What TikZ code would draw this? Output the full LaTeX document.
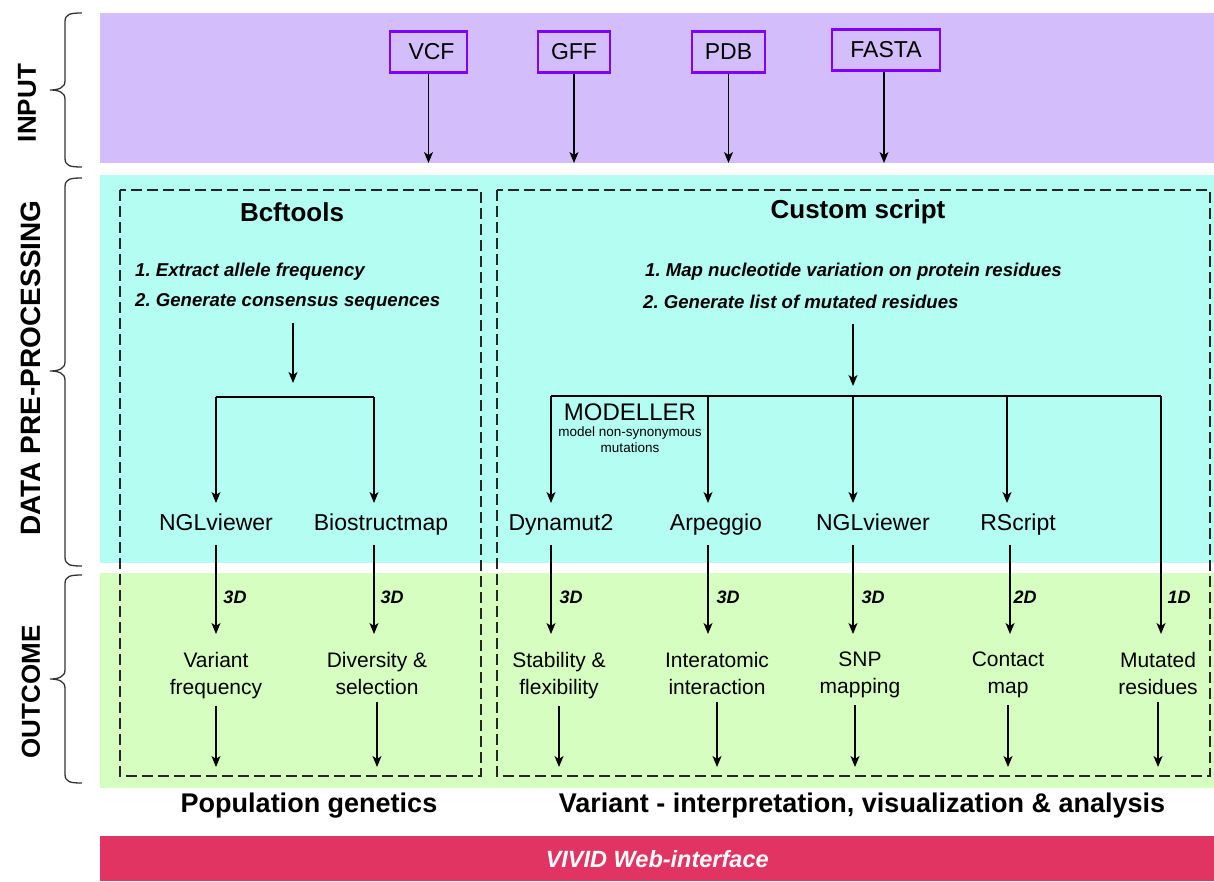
\documentclass[tikz,border=0pt]{standalone}
\usepackage{fontspec}
\setmainfont{Liberation Sans}
\usetikzlibrary{arrows.meta}
\frenchspacing
\definecolor{inbg}{HTML}{D3BEFB}
\definecolor{prebg}{HTML}{B4FDF3}
\definecolor{outbg}{HTML}{D5FEC0}
\definecolor{webbg}{HTML}{E23462}
\definecolor{boxline}{HTML}{7F00FF}
\definecolor{bracecol}{HTML}{333333}
\newcommand\mybrace[3]{\draw[bracestyle] (82,#1) .. controls (70,#1) and (65,{#1+1}) .. (65,{#1+9}) -- (65,{#2-9}) .. controls (65,{#2-2}) and (58,#2) .. (50,#2) .. controls (58,#2) and (65,{#2+2}) .. (65,{#2+9}) -- (65,{#3-9}) .. controls (65,{#3-1}) and (70,#3) .. (82,#3);}
\begin{document}
\begin{tikzpicture}[x=1pt,y=-1pt,
  arr/.style={-{Stealth[length=11pt,width=9pt,inset=3pt]}, line width=1.3pt},
  conn/.style={line width=1.3pt},
  bracestyle/.style={draw=bracecol, line width=1.3pt},
  dashbox/.style={draw=black!85, line width=1.3pt, dash pattern=on 11pt off 5pt},
  inbox/.style={draw=boxline, line width=2.6pt, fill=inbg, minimum height=41pt, inner sep=0pt, font=\fontsize{23}{27}\selectfont},
  side/.style={rotate=90, font=\bfseries\fontsize{26}{30}\selectfont},
  head/.style={font=\bfseries\fontsize{26}{30}\selectfont},
  steptext/.style={anchor=west, font=\bfseries\itshape\fontsize{18.6}{22}\selectfont, inner sep=0pt},
  tool/.style={font=\fontsize{23}{27}\selectfont, inner sep=0pt, text height=17pt, text depth=5pt, outer ysep=10pt},
  outc/.style={anchor=north, align=center, inner sep=0pt, font=\fontsize{21}{27}\selectfont},
  dim/.style={font=\bfseries\itshape\fontsize{18}{22}\selectfont, inner sep=0pt},
  foot/.style={font=\bfseries\fontsize{27}{31}\selectfont}
]
\useasboundingbox (0,0) rectangle (1214,881);
% bands
\fill[inbg] (100,13) rectangle (1214,163);
\fill[prebg] (100,175) rectangle (1214,563);
\fill[outbg] (100,573) rectangle (1214,788);
\node[fill=webbg, minimum width=1114pt, minimum height=45pt, inner sep=0pt, anchor=north west, text=white, font=\bfseries\itshape\fontsize{23.5}{27}\selectfont] (web) at (100,836) {VIVID Web-interface};

% side labels and braces
\node[side] (lin) at (27,103) {INPUT};
\node[side, font=\bfseries\fontsize{28}{32}\selectfont] (lpre) at (31,368) {DATA PRE-PROCESSING};
\node[side] (lout) at (31,692) {OUTCOME};
\mybrace{13}{90}{167}
\mybrace{178}{371}{566}
\mybrace{575}{679}{783}

% dashed boxes
\draw[dashbox] (120,190) rectangle (481,776);
\draw[dashbox] (497,190) rectangle (1210,776);

% input boxes
\coordinate (inend) at (0,163);
\node[inbox, minimum width=77pt] (vcf) at (428.5,52) {\hspace*{6pt}VCF};
\node[inbox, minimum width=72pt] (gff) at (574,52) {GFF};
\node[inbox, minimum width=73pt] (pdb) at (728.5,52) {PDB};
\node[inbox, minimum width=108pt] (fasta) at (886,50) {FASTA};
\draw[arr] (vcf) -- (vcf |- inend);
\draw[arr] (gff) -- (gff |- inend);
\draw[arr] (pdb) -- (pdb |- inend);
\draw[arr] ([xshift=-2pt]fasta.south) -- ([xshift=-2pt]fasta.south |- inend);

% headers and steps
\node[head] (bcf) at (292,212) {Bcftools};
\node[head] (cus) at (858,212) {Custom script};
\node[steptext] (l1) at (135,272) {1. Extract allele frequency};
\node[steptext] (l2) at (135,302) {2. Generate consensus sequences};
\node[steptext] (r1) at (645,272) {1. Map nucleotide variation on protein residues};
\node[steptext] (r2) at (643,302) {2. Generate list of mutated residues};

\coordinate (lsplit) at (293,383);
\coordinate (rsplit) at (853,386);
\draw[arr] (l2.south -| lsplit) ++(0,12) -- (lsplit);
\draw[arr] (853,324) -- (rsplit);

% split lines
\coordinate (sa) at (216,397);
\coordinate (sb) at (374,397);
\coordinate (ra) at (551,396);
\coordinate (rb) at (708,396);
\coordinate (rc) at (853,396);
\coordinate (rd) at (1007,396);
\coordinate (re) at (1161,396);
\draw[conn] (sa) -- (sb);
\draw[conn] (ra) -- (re);

% tools
\node[tool] (ngla) at (216,524) {NGLviewer};
\node[tool] (bsm) at (381,524) {Biostructmap};
\node[tool] (dyn) at (561,524) {Dynamut2};
\node[tool] (arp) at (716,524) {Arpeggio};
\node[tool] (nglb) at (873,524) {NGLviewer};
\node[tool] (rsc) at (1018,524) {RScript};

\node[font=\fontsize{24}{28}\selectfont, inner sep=0pt] (mod) at (630,412) {MODELLER};
\node[font=\fontsize{13.5}{16}\selectfont, align=center, inner sep=0pt, anchor=north] (modtxt) at (630,427) {model non-synonymous\\mutations};

\draw[arr] (sa) -- (sa |- ngla.north);
\draw[arr] (sb) -- (sb |- bsm.north);
\draw[arr] (ra) -- (ra |- dyn.north);
\draw[arr] (rb) -- (rb |- arp.north);
\draw[arr] (rc) -- (rc |- nglb.north);
\draw[arr] (rd) -- (rd |- rsc.north);

% outcomes
\node[outc] (vf) at (216,652) {Variant\\frequency};
\node[outc] (ds) at (377,652) {Diversity \&\\selection};
\node[outc] (sf) at (559,652) {Stability \&\\flexibility};
\node[outc] (ii) at (717,652) {Interatomic\\interaction};
\node[outc] (snp) at (860,652) {SNP\\mapping};
\node[outc] (cm) at (1008,652) {Contact\\map};
\node[outc] (mr) at (1158,652) {Mutated\\residues};

\coordinate (tipline) at (0,634);
\draw[arr] (sa |- ngla.south) -- (sa |- tipline);
\draw[arr] (sb |- bsm.south) -- (sb |- tipline);
\draw[arr] (ra |- dyn.south) -- (ra |- tipline);
\draw[arr] (rb |- arp.south) -- (rb |- tipline);
\draw[arr] (rc |- nglb.south) -- (rc |- tipline);
\draw[arr] ([xshift=3pt]rd |- rsc.south) -- ([xshift=3pt]rd |- tipline);
\draw[arr] (re) -- (re |- tipline);

\node[dim] (d1) at (235,597) {3D};
\node[dim] (d2) at (392,597) {3D};
\node[dim] (d3) at (571,597) {3D};
\node[dim] (d4) at (728,597) {3D};
\node[dim] (d5) at (873,597) {3D};
\node[dim] (d6) at (1025,597) {2D};
\node[dim] (d7) at (1179,597) {1D};

\coordinate (botline) at (0,767);
\foreach \n in {vf,ds,sf,ii,cm,mr}{
  \draw[arr, shorten <=7pt] (\n) -- (\n |- botline);
}
\draw[arr, shorten <=7pt] ([xshift=-5pt]snp.south) -- ([xshift=-5pt]snp.south |- botline);

% footers
\node[foot] (pop) at (309,806) {Population genetics};
\node[foot] (var) at (862,806) {Variant - interpretation, visualization \& analysis};
\end{tikzpicture}
\end{document}
